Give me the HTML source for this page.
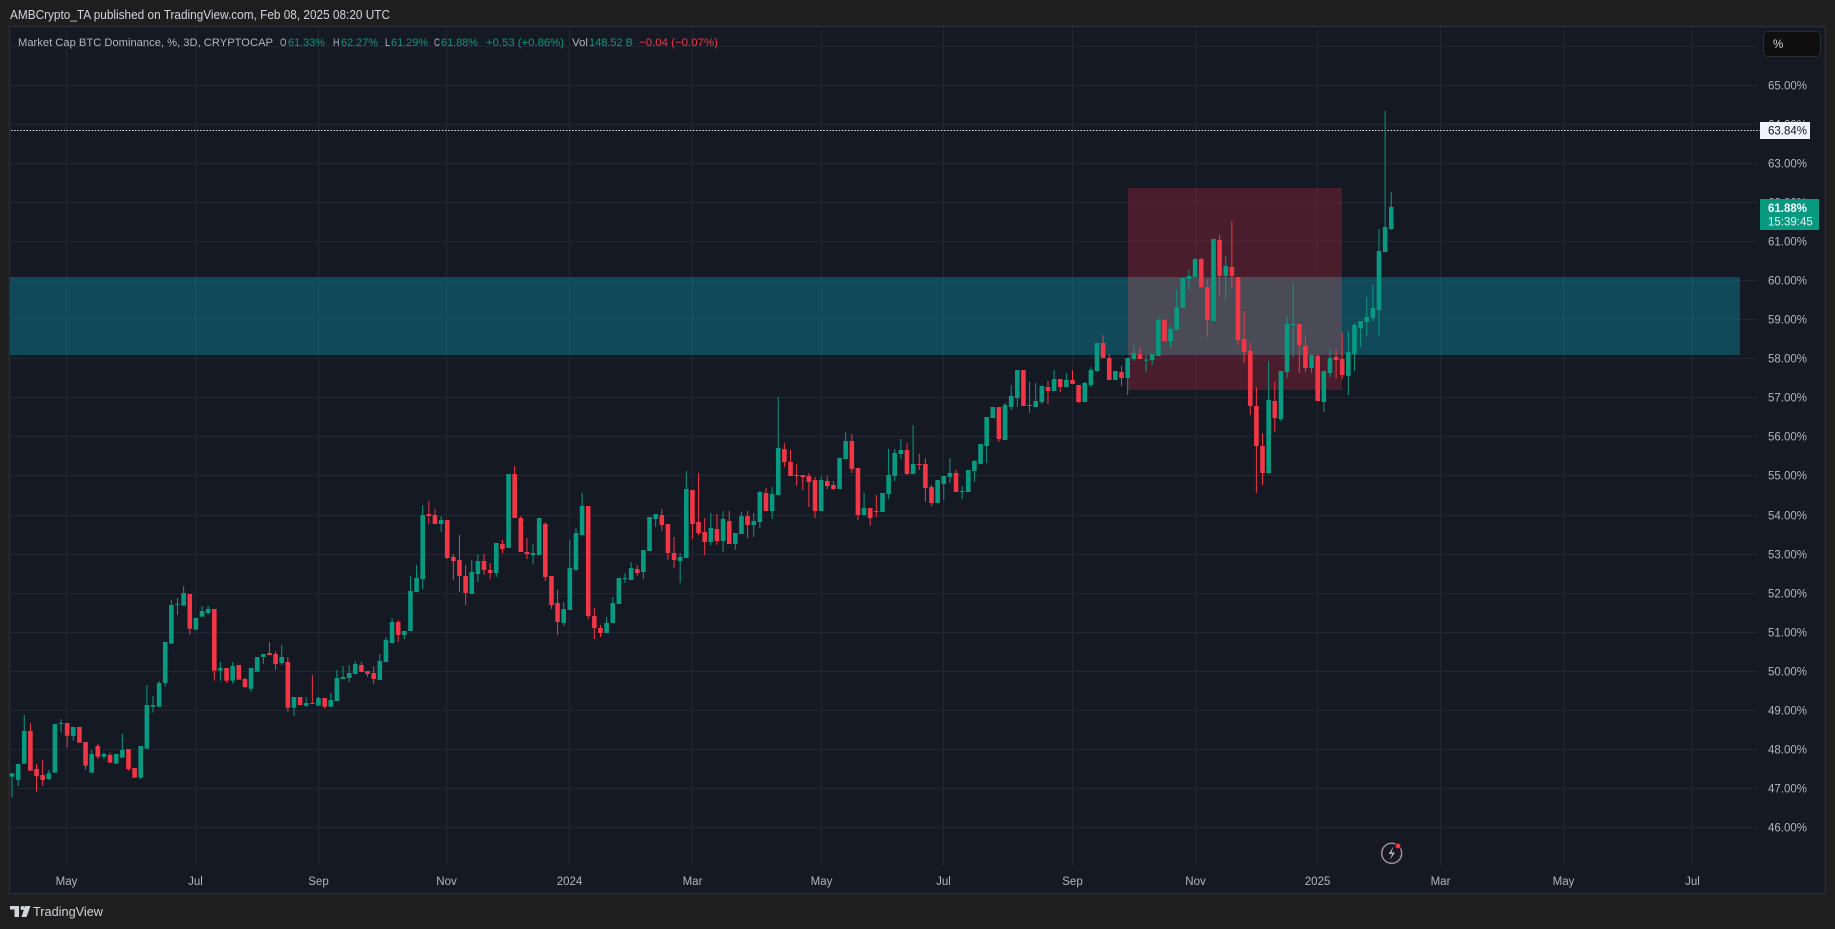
<!DOCTYPE html>
<html><head><meta charset="utf-8">
<style>
html,body{margin:0;padding:0;background:#1e1e1e;width:1835px;height:929px;overflow:hidden}
svg{display:block}
text{font-family:"Liberation Sans",sans-serif}
</style></head>
<body>
<svg width="1835" height="929" viewBox="0 0 1835 929">
<rect x="0" y="0" width="1835" height="929" fill="#1e1e1e"/>
<text x="10" y="19" font-size="12.5" fill="#d1d4dc" textLength="380" lengthAdjust="spacingAndGlyphs">AMBCrypto_TA published on TradingView.com, Feb 08, 2025 08:20 UTC</text>
<!-- panel -->
<rect x="9.5" y="26.5" width="1816" height="867" fill="#151924" stroke="#2c2c30" stroke-width="1.5"/>
<!-- horizontal grid -->
<g stroke="#232633" stroke-width="1">
<line x1="11" x2="1758" y1="46.5" y2="46.5"/><line x1="11" x2="1758" y1="85.5" y2="85.5"/><line x1="11" x2="1758" y1="124.5" y2="124.5"/><line x1="11" x2="1758" y1="163.5" y2="163.5"/><line x1="11" x2="1758" y1="202.5" y2="202.5"/><line x1="11" x2="1758" y1="241.5" y2="241.5"/><line x1="11" x2="1758" y1="280.5" y2="280.5"/><line x1="11" x2="1758" y1="319.5" y2="319.5"/><line x1="11" x2="1758" y1="358.5" y2="358.5"/><line x1="11" x2="1758" y1="397.5" y2="397.5"/><line x1="11" x2="1758" y1="436.5" y2="436.5"/><line x1="11" x2="1758" y1="475.5" y2="475.5"/><line x1="11" x2="1758" y1="515.5" y2="515.5"/><line x1="11" x2="1758" y1="554.5" y2="554.5"/><line x1="11" x2="1758" y1="593.5" y2="593.5"/><line x1="11" x2="1758" y1="632.5" y2="632.5"/><line x1="11" x2="1758" y1="671.5" y2="671.5"/><line x1="11" x2="1758" y1="710.5" y2="710.5"/><line x1="11" x2="1758" y1="749.5" y2="749.5"/><line x1="11" x2="1758" y1="788.5" y2="788.5"/><line x1="11" x2="1758" y1="827.5" y2="827.5"/>
</g>
<!-- vertical grid -->
<g stroke="#232633" stroke-width="1">
<line x1="66.5" x2="66.5" y1="27" y2="865"/><line x1="195.5" x2="195.5" y1="27" y2="865"/><line x1="318.5" x2="318.5" y1="27" y2="865"/><line x1="446.5" x2="446.5" y1="27" y2="865"/><line x1="569.5" x2="569.5" y1="27" y2="865"/><line x1="692.5" x2="692.5" y1="27" y2="865"/><line x1="821.5" x2="821.5" y1="27" y2="865"/><line x1="943.5" x2="943.5" y1="27" y2="865"/><line x1="1072.5" x2="1072.5" y1="27" y2="865"/><line x1="1195.5" x2="1195.5" y1="27" y2="865"/><line x1="1317.5" x2="1317.5" y1="27" y2="865"/><line x1="1440.5" x2="1440.5" y1="27" y2="865"/><line x1="1563.5" x2="1563.5" y1="27" y2="865"/><line x1="1692.5" x2="1692.5" y1="27" y2="865"/>
</g>
<!-- zones -->
<rect x="10" y="277" width="1730" height="78" fill="#0a7a90" opacity="0.5"/>
<rect x="1128" y="188" width="214" height="202" fill="#7e2231" opacity="0.5"/>
<rect x="1128" y="277" width="214" height="78" fill="#4b4b58"/>
<!-- dotted price line -->
<line x1="11" x2="1760" y1="130.5" y2="130.5" stroke="#e0e3eb" stroke-width="1" stroke-dasharray="1.5 1.6"/>
<!-- candles -->
<g id="cg"></g>
<!-- legend -->
<g font-size="11.3">
<text x="18" y="46" fill="#b2b5be" textLength="255" lengthAdjust="spacingAndGlyphs">Market Cap BTC Dominance, %, 3D, CRYPTOCAP</text>
<text x="280" y="46" fill="#b2b5be" textLength="6.5" lengthAdjust="spacingAndGlyphs">O</text><text x="288" y="46" fill="#089981" textLength="37" lengthAdjust="spacingAndGlyphs">61.33%</text>
<text x="333" y="46" fill="#b2b5be" textLength="6.5" lengthAdjust="spacingAndGlyphs">H</text><text x="341" y="46" fill="#089981" textLength="37" lengthAdjust="spacingAndGlyphs">62.27%</text>
<text x="385" y="46" fill="#b2b5be" textLength="5" lengthAdjust="spacingAndGlyphs">L</text><text x="391" y="46" fill="#089981" textLength="37" lengthAdjust="spacingAndGlyphs">61.29%</text>
<text x="434" y="46" fill="#b2b5be" textLength="6" lengthAdjust="spacingAndGlyphs">C</text><text x="441" y="46" fill="#089981" textLength="37" lengthAdjust="spacingAndGlyphs">61.88%</text>
<text x="486" y="46" fill="#089981" textLength="78" lengthAdjust="spacingAndGlyphs">+0.53 (+0.86%)</text>
<text x="572" y="46" fill="#b2b5be" textLength="16" lengthAdjust="spacingAndGlyphs">Vol</text>
<text x="589" y="46" fill="#089981" textLength="44" lengthAdjust="spacingAndGlyphs">148.52 B</text>
<text x="639" y="46" fill="#f23645" textLength="79" lengthAdjust="spacingAndGlyphs">−0.04 (−0.07%)</text>
</g>
<!-- price axis -->
<g font-size="11.5" fill="#b2b5be">
<text x="1768" y="89.5">65.00%</text><text x="1768" y="128.5">64.00%</text><text x="1768" y="167.5">63.00%</text><text x="1768" y="206.5">62.00%</text><text x="1768" y="245.5">61.00%</text><text x="1768" y="284.5">60.00%</text><text x="1768" y="323.5">59.00%</text><text x="1768" y="362.5">58.00%</text><text x="1768" y="401.5">57.00%</text><text x="1768" y="440.5">56.00%</text><text x="1768" y="479.5">55.00%</text><text x="1768" y="519.5">54.00%</text><text x="1768" y="558.5">53.00%</text><text x="1768" y="597.5">52.00%</text><text x="1768" y="636.5">51.00%</text><text x="1768" y="675.5">50.00%</text><text x="1768" y="714.5">49.00%</text><text x="1768" y="753.5">48.00%</text><text x="1768" y="792.5">47.00%</text><text x="1768" y="831.5">46.00%</text>
</g>
<rect x="1760" y="122" width="50" height="17" fill="#f0f3fa"/>
<text x="1768" y="134.5" font-size="11.5" fill="#131722">63.84%</text>
<rect x="1760" y="199" width="59" height="31" fill="#089981"/>
<text x="1768" y="212" font-size="11.5" font-weight="bold" fill="#ffffff">61.88%</text>
<text x="1768" y="225.5" font-size="11.5" fill="#e8f5f2">15:39:45</text>
<!-- % button -->
<rect x="1763.5" y="31.5" width="57" height="25" rx="4" fill="#0f0f0f" stroke="#2e2e2e"/>
<text x="1773" y="48" font-size="11.5" fill="#d1d4dc">%</text>
<!-- time axis -->
<g font-size="11.5" fill="#b2b5be" text-anchor="middle">
<text x="66.5" y="885">May</text><text x="195.5" y="885">Jul</text><text x="318.5" y="885">Sep</text><text x="446.5" y="885">Nov</text><text x="569.5" y="885">2024</text><text x="692.5" y="885">Mar</text><text x="821.5" y="885">May</text><text x="943.5" y="885">Jul</text><text x="1072.5" y="885">Sep</text><text x="1195.5" y="885">Nov</text><text x="1317.5" y="885">2025</text><text x="1440.5" y="885">Mar</text><text x="1563.5" y="885">May</text><text x="1692.5" y="885">Jul</text>
</g>
<!-- lightning icon -->
<circle cx="1391.7" cy="853.3" r="10" fill="#151924" stroke="#a58c9f" stroke-width="1.5"/>
<path d="M1393.5 846.5 L1388.5 854 L1392 854 L1390 860 L1395 852.5 L1391.5 852.5 Z" fill="#b9aab6"/>
<circle cx="1398" cy="846" r="3" fill="#f23645" stroke="#151924" stroke-width="1"/>
<!-- footer logo -->
<g fill="#d1d4dc">
<rect x="10" y="906" width="9" height="3.5"/>
<rect x="14.5" y="906" width="4.5" height="11"/>
<circle cx="22.5" cy="908" r="2"/>
<polygon points="25,906 30.5,906 26.5,917 21.5,917"/>
</g>
<text x="33" y="916" font-size="13" fill="#d1d4dc" textLength="70" lengthAdjust="spacingAndGlyphs">TradingView</text>
</svg>
<script>
var segs=[
{o:560,s:1,d:[
[1,640,650,640,713],[1,612,660,612,678],[1,513,611,465,611],[0,513,632,489,632],[0,627,648,612,695],[0,645,660,600,678],[1,640,657,630,660],[1,492,638],[1,489,492,477,518],[0,489,527,489,563],
[1,501,528,501,542],[0,501,548],[0,546,617,546,629],[1,582,638,570,638],[0,558,590,552,597],[1,582,590,578,597],[0,585,608,578,608],[1,582,611],[1,570,593,522,593],[0,567,627,567,632],
[0,624,653],[1,558,653,558,657],[1,435,566,375,566],[1,435,440,408,458],[1,369,440,363,440],[1,246,369,246,380],[1,135,251,120,251],[1,131,133,114,165],[1,99,137,78,137],[0,102,206,102,224],
[1,174,209],[1,153,170,138,170],[1,147,159,138,164],[0,147,332,147,362],[1,324,332,306,362],[0,324,362,324,368],[1,318,362,306,371],[0,315,359],[0,357,381,353,384],[1,324,386,324,395],
[1,291,335],[1,282,291,282,312],[0,279,285,246,285],[0,282,312,273,330],[1,291,309,255,315],[0,306,443,291,455]]},
{o:440,s:47,d:[
[1,771,803,771,828],[0,771,795],[1,789,797,771,801],[0,789,791,705,791],[1,774,797,771,797],[0,774,800,774,806],[1,780,800,759,800],[1,714,783,690,783],[1,711,717,678,717],[1,699,714,675,726],
[1,672,702,663,702],[0,675,696,666,696],[0,693,702,693,711],[0,699,717,678,732],[1,663,720,642,720],[1,600,666,591,666],[1,546,609,534,609],[0,546,585,540,606],[1,573,585,573,597],[1,453,573,408,573],
[1,414,456,375,456],[1,225,417,195,447],[0,222,228,183,252],[0,225,252,207,252],[1,240,252,228,276],[0,240,354,240,357],[0,351,363,342,420],[0,360,408,285,456],[0,408,459,375,495],[1,396,462,360,462],
[1,363,402,342,426],[0,363,390,342,405],[0,390,399,369,417],[1,309,399,309,411],[0,312,327,300,339],[1,102,324],[0,102,234,78,234],[0,234,336,228,336],[0,336,342,294,357],[1,339,345,312,372],
[1,234,345],[0,252,411,246,423],[0,408,495,408,507],[0,489,546,450,585],[1,507,549,486,558],[1,384,510,300,510],[1,279,390,264,390],[1,198,285,159,288],[0,198,528,198,537],[0,528,564,504,597],
[0,564,579,555,591],[1,549,579,531,579]]},
{o:380,s:99,d:[
[1,669,729,651,729],[1,594,672],[1,594,596,579,609],[1,564,600,546,600],[0,567,579,555,588],[1,510,576,510,597],[1,411,513],[1,402,417,402,441],[0,405,435,387,453],[0,432,519,432,540],
[0,519,540,471,564],[1,531,543,519,609],[1,327,534,273,534],[0,330,432,330,477],[0,426,459,279,465],[0,456,486,414,525],[1,444,486,399,495],[0,447,483,402,495],[1,417,483,393,516],[0,423,492,393,492],
[1,459,492,459,510],[1,408,462,396,462],[0,408,435,393,474],[1,423,435,399,471],[1,336,426,333,444],[0,339,393,324,393],[1,342,393,321,417],[1,204,345,51,345],[0,207,246,189,261],[0,246,288,210,288],
[0,285,287,252,318],[0,285,291,285,330],[0,288,306,279,381],[0,300,393,291,414],[1,300,393,288,393],[0,303,318,288,327],[0,315,327,303,330],[1,234,327],[1,183,237,156,237],[0,183,267,162,279],
[0,264,405,264,420],[1,384,405,339,405],[0,384,414,384,438],[0,393,395,345,411],[1,339,396],[1,285,342,207,357],[1,219,288,207,303],[1,210,222,177,237]]},
{o:300,s:147,d:[
[0,450,522,429,525],[1,492,522,375,522],[0,492,494,462,510],[0,492,564,474,606],[0,561,609,555,618],[1,540,609],[1,528,552,528,600],[1,519,531,474,549],[0,519,576,510,576],[1,573,575,558,597],
[1,510,576],[1,483,513,480,546],[1,432,492],[1,351,438,351,489],[1,321,354],[0,321,417,321,426],[1,315,420,309,420],[1,288,321,255,330],[1,210,294,210,321],[0,210,318],
[1,315,317,246,339],[1,303,321,249,321],[1,258,306,258,312],[0,261,273,243,312],[1,237,273,210,273],[0,237,261,237,276],[1,240,261,219,261],[0,240,252,210,252],[0,255,306,255,309],[1,249,306,246,306],
[1,210,255,201,261],[1,129,213,129,216],[0,129,174,105,174],[0,174,240,162,240],[1,213,240],[0,216,234,198,258],[1,174,234,174,285],[1,159,177,135,183],[0,162,177,141,177],[1,179,181,165,216],
[1,162,180,162,195]]},
{o:95,s:188,d:[
[1,675,783,669,783],[0,675,738,672,738],[1,702,738,693,759],[1,636,705,585,705],[1,549,639],[1,543,552,525,585],[1,492,546,489,546],[0,492,576,489,579],[0,576,675,555,726],[1,432,678],
[0,435,543,420,603],[1,513,543,483,612],[0,516,543,378,579],[0,546,735,546,750],[0,732,771,648,804],[0,768,933,744,960],[0,933,1053,876,1194],[0,1053,1134,1014,1170],[1,915,1134,798,1137],[0,918,969,861,1011],
[1,828,972,828,978],[1,687,831,663,849],[1,687,689,564,786],[0,687,750,687,834],[0,753,819,720,831],[1,780,819,780,834],[0,783,918,777,918],[1,828,921,828,951],[1,789,834,762,846],[0,786,795,762,849],
[0,792,840,714,852],[1,771,843,708,900],[1,690,777,684,828],[1,678,699,678,756],[1,666,681,606,723],[1,639,669,570,678],[1,468,645,402,720],[1,396,471,48,471],[1,336,402,291,405]]}
];
var parts=[];
segs.forEach(function(s){
  s.d.forEach(function(c,k){
    var i=s.s+k, x=12+(i-1)*6.13, col=c[0]?'#089981':'#f23645';
    var bt=s.o+c[1]/3, bb=s.o+c[2]/3;
    var wt=s.o+(c.length>3?c[3]:c[1])/3, wb=s.o+(c.length>3?c[4]:c[2])/3;
    if(wt>bt)wt=bt; if(wb<bb)wb=bb;
    parts.push('<rect x="'+(x-0.5).toFixed(2)+'" y="'+wt.toFixed(2)+'" width="1" height="'+Math.max(1,wb-wt).toFixed(2)+'" fill="'+col+'"/>');
    parts.push('<rect x="'+(x-2.3).toFixed(2)+'" y="'+bt.toFixed(2)+'" width="4.6" height="'+Math.max(1,bb-bt).toFixed(2)+'" fill="'+col+'"/>');
  });
});
document.getElementById('cg').innerHTML=parts.join('');
</script>
</body></html>
